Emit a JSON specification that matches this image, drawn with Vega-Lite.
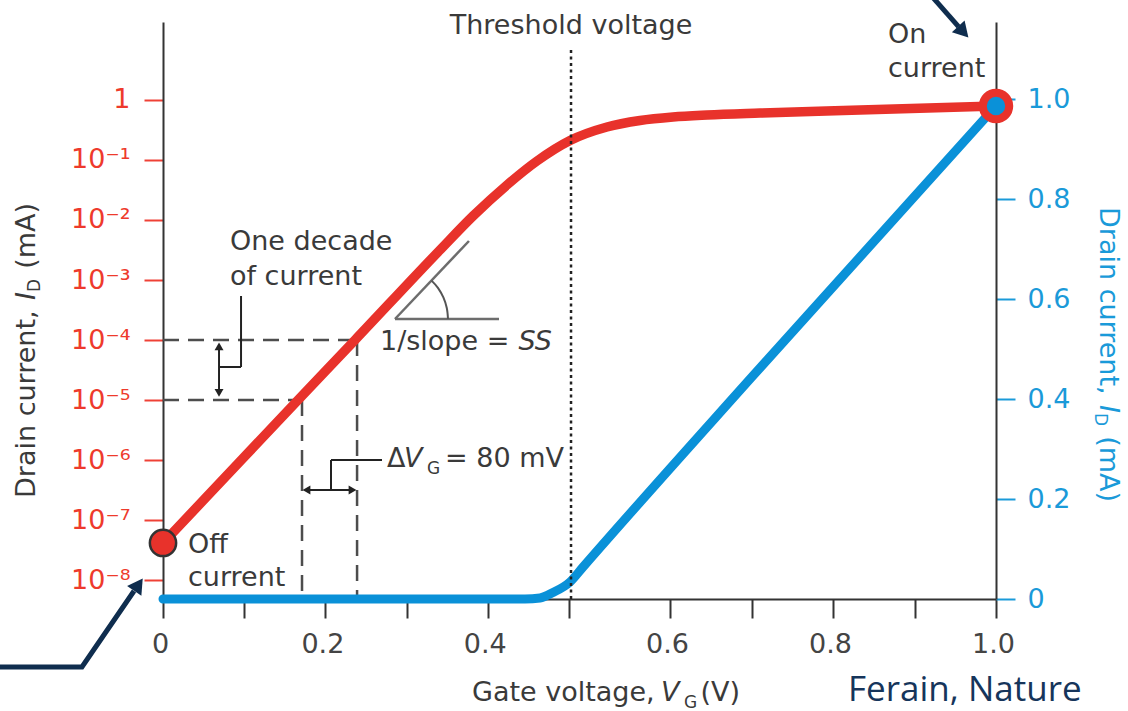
{
  "$schema": "https://vega.github.io/schema/vega-lite/v6.json",
  "width": 833,
  "height": 577,
  "autosize": {"type": "none"},
  "padding": {"left": 163, "top": 22, "right": 132, "bottom": 112},
  "background": "white",
  "config": {
    "font": "DejaVu Sans",
    "view": {"stroke": null},
    "axis": {"grid": false, "labelFont": "DejaVu Sans", "titleFont": "DejaVu Sans", "titleFontWeight": "normal", "labelFlush": false, "labelOverlap": false},
    "text": {"font": "DejaVu Sans"}
  },
  "encoding": {
    "x": {
      "field": "x", "type": "quantitative",
      "scale": {"domain": [0, 0.5, 0.6, 1], "range": [0, 406, 507, 833], "nice": false, "zero": false},
      "axis": {
        "values": [0, 0.1, 0.2, 0.3, 0.4, 0.5, 0.6, 0.7, 0.8, 0.9, 1.0],
        "labelExpr": "round(datum.value*10) % 2 == 1 ? '' : (datum.value == 0 ? '0' : format(datum.value, '.1f'))",
        "tickColor": "#333333", "tickWidth": 2, "tickSize": 19,
        "labelColor": "#444444", "labelFontSize": 27, "labelBaseline": "alphabetic", "labelPadding": 34, "labelOffset": -3,
        "domainColor": "#333333", "domainWidth": 2, "title": null
      }
    }
  },
  "layer": [
    {
      "encoding": {
        "y": {
          "field": "y", "type": "quantitative",
          "scale": {"type": "log", "domain": [4.824e-9, 19.95], "nice": false},
          "axis": {
            "orient": "left",
            "values": [1e-8, 1e-7, 1e-6, 1e-5, 1e-4, 1e-3, 1e-2, 1e-1, 1],
            "labelExpr": "datum.value >= 0.5 ? '1' : '10⁻' + ['','¹','²','³','⁴','⁵','⁶','⁷','⁸'][round(-log(datum.value)/LN10)]",
            "tickColor": "#EF4136", "tickWidth": 2, "tickSize": 19,
            "labelColor": "#EE3A2C", "labelFontSize": 27, "labelPadding": 14, "labelBaseline": "middle",
            "domainColor": "#333333", "domainWidth": 2,
            "title": null
          }
        }
      },
      "layer": [
        {
          "data": {"values": [
            {"x": 0, "x2": 0.239, "y": 1e-4, "y2": 1e-4},
            {"x": 0, "x2": 0.1712, "y": 1e-5, "y2": 1e-5},
            {"x": 0.1712, "x2": 0.1712, "y": 1e-5, "y2": 4.824e-9},
            {"x": 0.239, "x2": 0.239, "y": 1e-4, "y2": 4.824e-9}
          ]},
          "mark": {"type": "rule", "strokeDash": [16, 9], "strokeWidth": 2.5, "color": "#4d4d4d"},
          "encoding": {"x2": {"field": "x2"}, "y2": {"field": "y2"}}
        },
        {
          "data": {"values": [{"x": 0.069, "y": 8.0e-5, "y2": 1.3e-5}]},
          "mark": {"type": "rule", "strokeWidth": 2, "color": "#222222"},
          "encoding": {"y2": {"field": "y2"}}
        },
        {
          "data": {"values": [{"x": 0.069, "y": 7.8e-5}]},
          "mark": {"type": "point", "shape": "triangle-up", "filled": true, "size": 80, "color": "#222222", "opacity": 1}
        },
        {
          "data": {"values": [{"x": 0.069, "y": 1.31e-5}]},
          "mark": {"type": "point", "shape": "triangle-down", "filled": true, "size": 80, "color": "#222222", "opacity": 1}
        },
        {
          "data": {"values": [
            {"x": 0, "y": 4.14e-8}, {"x": 0.05, "y": 2.15e-7}, {"x": 0.1663, "y": 1.0e-5},
            {"x": 0.2365, "y": 1.0e-4}, {"x": 0.3411, "y": 3.16e-3}, {"x": 0.3818, "y": 0.01166},
            {"x": 0.4236, "y": 0.03831}, {"x": 0.4606, "y": 0.09623}, {"x": 0.501, "y": 0.2113},
            {"x": 0.5376, "y": 0.3548}, {"x": 0.5703, "y": 0.4553}, {"x": 0.6037, "y": 0.5207},
            {"x": 0.6454, "y": 0.5623}, {"x": 0.7104, "y": 0.607}, {"x": 0.8331, "y": 0.6813},
            {"x": 1.0, "y": 0.794}
          ]},
          "mark": {"type": "line", "color": "#E8322B", "strokeWidth": 9.5, "strokeCap": "round", "interpolate": "monotone"},
          "encoding": {}
        },
        {
          "data": {"values": [{"x": 0, "y": 4.14e-8}]},
          "mark": {"type": "point", "filled": true, "fill": "#E8322B", "stroke": "#333333", "strokeWidth": 2.5, "size": 690, "opacity": 1}
        }
      ]
    },
    {
      "encoding": {
        "y": {
          "field": "y", "type": "quantitative",
          "scale": {"domain": [0, 1.154], "nice": false, "zero": false},
          "axis": {
            "orient": "right",
            "values": [0, 0.2, 0.4, 0.6, 0.8, 1.0],
            "labelExpr": "datum.value == 0 ? '0' : format(datum.value, '.1f')",
            "tickColor": "#1A9AD9", "tickWidth": 2, "tickSize": 19,
            "labelColor": "#1A9AD9", "labelFontSize": 27, "labelPadding": 12, "labelBaseline": "middle",
            "domainColor": "#333333", "domainWidth": 2,
            "title": null
          }
        }
      },
      "layer": [
        {
          "data": {"values": [
            {"x": 0, "y": 0}, {"x": 0.4458, "y": 0}, {"x": 0.4643, "y": 0.002}, {"x": 0.4803, "y": 0.013},
            {"x": 0.501, "y": 0.034}, {"x": 0.5139, "y": 0.064}, {"x": 0.6982, "y": 0.44}, {"x": 1.0, "y": 0.986}
          ]},
          "mark": {"type": "line", "color": "#0A91D8", "strokeWidth": 9, "strokeCap": "round", "interpolate": "monotone"},
          "encoding": {}
        },
        {
          "data": {"values": [{"x": 0.502, "y": 0, "y2": 1.098}]},
          "mark": {"type": "rule", "strokeDash": [3, 3.5], "strokeWidth": 2.5, "color": "#222222"},
          "encoding": {"y2": {"field": "y2"}}
        },
        {
          "data": {"values": [
            {"x": 0.0961, "x2": 0.0961, "y": 0.606, "y2": 0.464},
            {"x": 0.069, "x2": 0.0961, "y": 0.464, "y2": 0.464},
            {"x": 0.2069, "x2": 0.2069, "y": 0.278, "y2": 0.218},
            {"x": 0.2069, "x2": 0.2697, "y": 0.278, "y2": 0.278},
            {"x": 0.178, "x2": 0.232, "y": 0.218, "y2": 0.218}
          ]},
          "mark": {"type": "rule", "strokeWidth": 2, "color": "#222222"},
          "encoding": {"x2": {"field": "x2"}, "y2": {"field": "y2"}}
        },
        {
          "data": {"values": [{"x": 0.1767, "y": 0.218}]},
          "mark": {"type": "point", "shape": "triangle-left", "filled": true, "size": 80, "color": "#222222", "opacity": 1}
        },
        {
          "data": {"values": [{"x": 0.2334, "y": 0.218}]},
          "mark": {"type": "point", "shape": "triangle-right", "filled": true, "size": 80, "color": "#222222", "opacity": 1}
        },
        {
          "data": {"values": [
            {"x": 0.2857, "x2": 0.3768, "y": 0.56, "y2": 0.716},
            {"x": 0.2857, "x2": 0.4138, "y": 0.56, "y2": 0.56}
          ]},
          "mark": {"type": "rule", "strokeWidth": 2.5, "color": "#6d6d6d"},
          "encoding": {"x2": {"field": "x2"}, "y2": {"field": "y2"}}
        },
        {
          "data": {"values": [
            {"i": 0, "x": 0.351, "y": 0.56}, {"i": 1, "x": 0.3495, "y": 0.582}, {"i": 2, "x": 0.3453, "y": 0.6032},
            {"i": 3, "x": 0.3386, "y": 0.6224}, {"i": 4, "x": 0.3307, "y": 0.6368}
          ]},
          "mark": {"type": "line", "strokeWidth": 2, "color": "#555555", "interpolate": "cardinal"},
          "encoding": {"order": {"field": "i", "type": "quantitative"}}
        },
        {
          "data": {"values": [
            {"id": "a", "i": 0, "x": -0.21, "y": -0.136}, {"id": "a", "i": 1, "x": -0.0998, "y": -0.136},
            {"id": "a", "i": 2, "x": -0.0357, "y": 0.016},
            {"id": "b", "i": 0, "x": 0.9215, "y": 1.205}, {"id": "b", "i": 1, "x": 0.954, "y": 1.1446}
          ]},
          "mark": {"type": "line", "strokeWidth": 5, "color": "#0F2D4E", "strokeJoin": "miter"},
          "encoding": {"detail": {"field": "id"}, "order": {"field": "i", "type": "quantitative"}}
        },
        {
          "data": {"values": [{"x": -0.0302, "y": 0.0288}]},
          "mark": {"type": "point", "shape": "triangle-up", "angle": 34.4, "filled": true, "size": 300, "color": "#0F2D4E", "opacity": 1}
        },
        {
          "data": {"values": [{"x": 0.9599, "y": 1.1342}]},
          "mark": {"type": "point", "shape": "triangle-up", "angle": 137.3, "filled": true, "size": 300, "color": "#0F2D4E", "opacity": 1}
        },
        {
          "data": {"values": [{"x": 1.0, "y": 0.986}]},
          "mark": {"type": "point", "filled": true, "fill": "#0A91D8", "stroke": "#E8322B", "strokeWidth": 8, "size": 700, "opacity": 1}
        },
        {
          "data": {"values": [
            {"x": 0.0825, "y": 0.698, "t": "One decade"},
            {"x": 0.0825, "y": 0.628, "t": "of current"},
            {"x": 0.2672, "y": 0.498, "t": "1/slope ="},
            {"x": 0.0308, "y": 0.092, "t": "Off"},
            {"x": 0.0308, "y": 0.026, "t": "current"},
            {"x": 0.8675, "y": 1.112, "t": "On"},
            {"x": 0.8675, "y": 1.044, "t": "current"},
            {"x": 0.2759, "y": 0.264, "t": "Δ"},
            {"x": 0.3805, "y": -0.204, "t": "Gate voltage,"}
          ]},
          "mark": {"type": "text", "align": "left", "baseline": "alphabetic", "fontSize": 27, "color": "#3a3a3a"},
          "encoding": {"text": {"field": "t"}}
        },
        {
          "data": {"values": [{"x": 0.502, "y": 1.13, "t": "Threshold voltage"}]},
          "mark": {"type": "text", "align": "center", "baseline": "alphabetic", "fontSize": 27, "color": "#3a3a3a"},
          "encoding": {"text": {"field": "t"}}
        },
        {
          "data": {"values": [
            {"x": 0.4938, "y": 0.264, "t": "= 80 mV"},
            {"x": 0.6859, "y": -0.204, "t": "(V)"}
          ]},
          "mark": {"type": "text", "align": "right", "baseline": "alphabetic", "fontSize": 27, "color": "#3a3a3a"},
          "encoding": {"text": {"field": "t"}}
        },
        {
          "data": {"values": [
            {"x": 0.2968, "y": 0.264, "t": "V"},
            {"x": 0.5911, "y": -0.204, "t": "V"}
          ]},
          "mark": {"type": "text", "align": "left", "baseline": "alphabetic", "fontSize": 27, "fontStyle": "italic", "color": "#3a3a3a"},
          "encoding": {"text": {"field": "t"}}
        },
        {
          "data": {"values": [{"x": 0.479, "y": 0.498, "t": "SS"}]},
          "mark": {"type": "text", "align": "right", "baseline": "alphabetic", "fontSize": 27, "fontStyle": "italic", "color": "#3a3a3a"},
          "encoding": {"text": {"field": "t"}}
        },
        {
          "data": {"values": [
            {"x": 0.3251, "y": 0.25, "t": "G"},
            {"x": 0.6172, "y": -0.218, "t": "G"}
          ]},
          "mark": {"type": "text", "align": "left", "baseline": "alphabetic", "fontSize": 17, "color": "#3a3a3a"},
          "encoding": {"text": {"field": "t"}}
        },
        {
          "data": {"values": [{"x": -0.1576, "y": 0.202, "t": "Drain current,"}]},
          "mark": {"type": "text", "align": "left", "baseline": "alphabetic", "angle": 270, "fontSize": 27, "color": "#3a3a3a"},
          "encoding": {"text": {"field": "t"}}
        },
        {
          "data": {"values": [{"x": -0.1576, "y": 0.598, "t": "I"}]},
          "mark": {"type": "text", "align": "left", "baseline": "alphabetic", "angle": 270, "fontSize": 27, "fontStyle": "italic", "color": "#3a3a3a"},
          "encoding": {"text": {"field": "t"}}
        },
        {
          "data": {"values": [{"x": -0.1515, "y": 0.614, "t": "D"}]},
          "mark": {"type": "text", "align": "left", "baseline": "alphabetic", "angle": 270, "fontSize": 17, "color": "#3a3a3a"},
          "encoding": {"text": {"field": "t"}}
        },
        {
          "data": {"values": [{"x": -0.1576, "y": 0.792, "t": "(mA)"}]},
          "mark": {"type": "text", "align": "right", "baseline": "alphabetic", "angle": 270, "fontSize": 27, "color": "#3a3a3a"},
          "encoding": {"text": {"field": "t"}}
        },
        {
          "data": {"values": [{"x": 1.1276, "y": 0.784, "t": "Drain current,"}]},
          "mark": {"type": "text", "align": "left", "baseline": "alphabetic", "angle": 90, "fontSize": 27, "color": "#1A9AD9"},
          "encoding": {"text": {"field": "t"}}
        },
        {
          "data": {"values": [{"x": 1.1276, "y": 0.388, "t": "I"}]},
          "mark": {"type": "text", "align": "left", "baseline": "alphabetic", "angle": 90, "fontSize": 27, "fontStyle": "italic", "color": "#1A9AD9"},
          "encoding": {"text": {"field": "t"}}
        },
        {
          "data": {"values": [{"x": 1.1215, "y": 0.372, "t": "D"}]},
          "mark": {"type": "text", "align": "left", "baseline": "alphabetic", "angle": 90, "fontSize": 17, "color": "#1A9AD9"},
          "encoding": {"text": {"field": "t"}}
        },
        {
          "data": {"values": [{"x": 1.1276, "y": 0.194, "t": "(mA)"}]},
          "mark": {"type": "text", "align": "right", "baseline": "alphabetic", "angle": 90, "fontSize": 27, "color": "#1A9AD9"},
          "encoding": {"text": {"field": "t"}}
        },
        {
          "data": {"values": [{"x": 0.8184, "y": -0.204, "t": "Ferain, Nature"}]},
          "mark": {"type": "text", "align": "left", "baseline": "alphabetic", "fontSize": 35, "font": "Open Sans", "color": "#16355B"},
          "encoding": {"text": {"field": "t"}}
        }
      ]
    }
  ],
  "resolve": {"scale": {"y": "independent"}}
}
